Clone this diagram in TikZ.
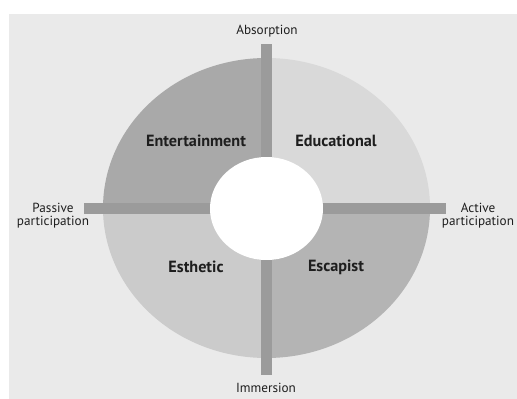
\documentclass[tikz,border=0pt]{standalone}
\usepackage{fontspec}
\setmainfont{PT Sans}
\definecolor{exBack}{HTML}{EAEAEA}
\definecolor{exEnter}{HTML}{A9A9A9}
\definecolor{exEduc}{HTML}{D9D9D9}
\definecolor{exEsth}{HTML}{CBCBCB}
\definecolor{exEscap}{HTML}{B4B4B4}
\definecolor{exBar}{HTML}{9B9B9B}
\definecolor{exText}{HTML}{1E1E1E}
\usetikzlibrary{calc,positioning,shapes.geometric}

\tikzset{
  axislabel/.style={text=exText, font=\fontsize{13.2}{13.5}\selectfont, align=center, inner sep=0pt},
  realmlabel/.style={text=exText, font=\fontsize{16.2}{18}\selectfont\bfseries, inner sep=0pt},
  axisbar/.style={draw=exBar, line width=11pt, line cap=butt}
}

\begin{document}
\begin{tikzpicture}[x=1pt, y=-1pt]
  \useasboundingbox (0,0) rectangle (517,399);
  \fill[exBack] (9,14) rectangle (517,399);
  % the four realms
  \begin{scope}
    \clip (266.5,208) ellipse [x radius=163.5, y radius=150];
    \fill[exEnter] (266.5,208) rectangle (100,55);
    \fill[exEduc]  (266.5,208) rectangle (433,55);
    \fill[exEsth]  (266.5,208) rectangle (100,361);
    \fill[exEscap] (266.5,208) rectangle (433,361);
  \end{scope}
  \node[ellipse, fill=white, inner sep=0pt, minimum width=113pt, minimum height=103pt] (hub) at (266.5,208.5) {};

  \coordinate (absorb) at (266.5,44);
  \coordinate (immerse) at (266.5,375);
  \coordinate (passive) at (84,208.5);
  \coordinate (active) at (446,208.5);
  \draw[axisbar] (hub.north) -- (absorb);
  \draw[axisbar] (hub.south) -- (immerse);
  \draw[axisbar] (hub.west) -- (passive);
  \draw[axisbar] (hub.east) -- (active);

  \node[axislabel] (absorbtxt) at (267,31) {Absorption};
  \node[axislabel] (immersetxt) at (266,388) {Immersion};
  \node[axislabel] (passivetxt) at (53,215.5) {Passive\\participation};
  \node[axislabel] (activetxt) at (478,215.5) {Active\\participation};

  \node[realmlabel] (enter) at (196,141) {Entertainment};
  \node[realmlabel] (educ)  at (336,141) {Educational};
  \node[realmlabel] (esth)  at (196,267) {Esthetic};
  \node[realmlabel] (escap) at (336,267) {Escapist};
\end{tikzpicture}
\end{document}
